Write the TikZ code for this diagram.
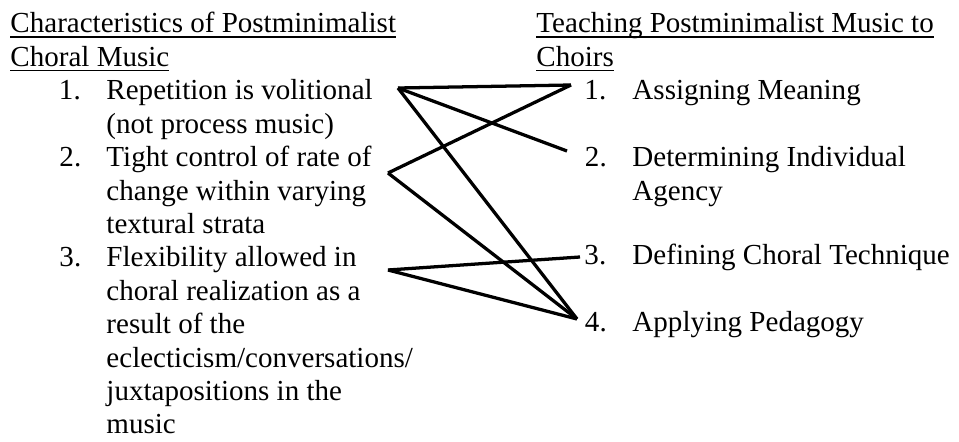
\documentclass[tikz,border=0pt]{standalone}
\usepackage{fontspec}
\setmainfont{Liberation Serif}
\newsavebox\ulbox
% underline at a fixed depth below the baseline, as a word processor draws it
\newcommand\ulline[1]{\sbox\ulbox{#1}\rlap{\rule[-2pt]{\wd\ulbox}{0.7pt}}\usebox\ulbox}
\newcommand\lines[1]{\begin{tabular}[t]{@{}l@{}}#1\end{tabular}}
\begin{document}
\begin{tikzpicture}[x=0.41322pt, y=-0.41322pt,
  txt/.style={inner sep=0pt, anchor=base west, font=\fontsize{12}{13.8}\selectfont},
  link/.style={line width=1.35pt}]
\useasboundingbox (0,0) rectangle (959,442);

% left column: characteristics
\node[txt] (hl) at (10,33) {\lines{\ulline{Characteristics of Postminimalist}\\\ulline{Choral Music}}};
\node[txt] (ln1) at (58.5,100) {1.};
\node[txt] (lt1) at (106,100) {\lines{Repetition is volitional\\(not process music)}};
\node[txt] (ln2) at (59,167) {2.};
\node[txt] (lt2) at (106,167) {\lines{Tight control of rate of\\change within varying\\textural strata}};
\node[txt] (ln3) at (59,267) {3.};
\node[txt] (lt3) at (106,267) {\lines{Flexibility allowed in\\choral realization as a\\result of the\\eclecticism/conversations/\\juxtapositions in the\\music}};

% right column: teaching
\node[txt] (hr) at (536,33) {\lines{\ulline{Teaching Postminimalist Music to}\\\ulline{Choirs}}};
\node[txt] (rn1) at (584,100) {1.};
\node[txt] (rt1) at (632,100) {Assigning Meaning};
\node[txt] (rn2) at (584.5,167) {2.};
\node[txt] (rt2) at (632,167) {\lines{Determining Individual\\Agency}};
\node[txt] (rn3) at (584,265) {3.};
\node[txt] (rt3) at (632,265) {Defining Choral Technique};
\node[txt] (rn4) at (584.5,332) {4.};
\node[txt] (rt4) at (632,332) {Applying Pedagogy};

% connector end points
\coordinate (a1) at (398,88);
\coordinate (a2) at (388,173);
\coordinate (a3) at (388,270);
\coordinate (b1) at (571,85);
\coordinate (b2) at (567,151);
\coordinate (b3) at (580,257);
\coordinate (b4) at (577,319);

\draw[link] (a1) -- (b1);
\draw[link] (a1) -- (b2);
\draw[link] (a1) -- (b4);
\draw[link] (a2) -- (b1);
\draw[link] (a2) -- (b4);
\draw[link] (a3) -- (b3);
\draw[link] (a3) -- (b4);
\end{tikzpicture}
\end{document}
